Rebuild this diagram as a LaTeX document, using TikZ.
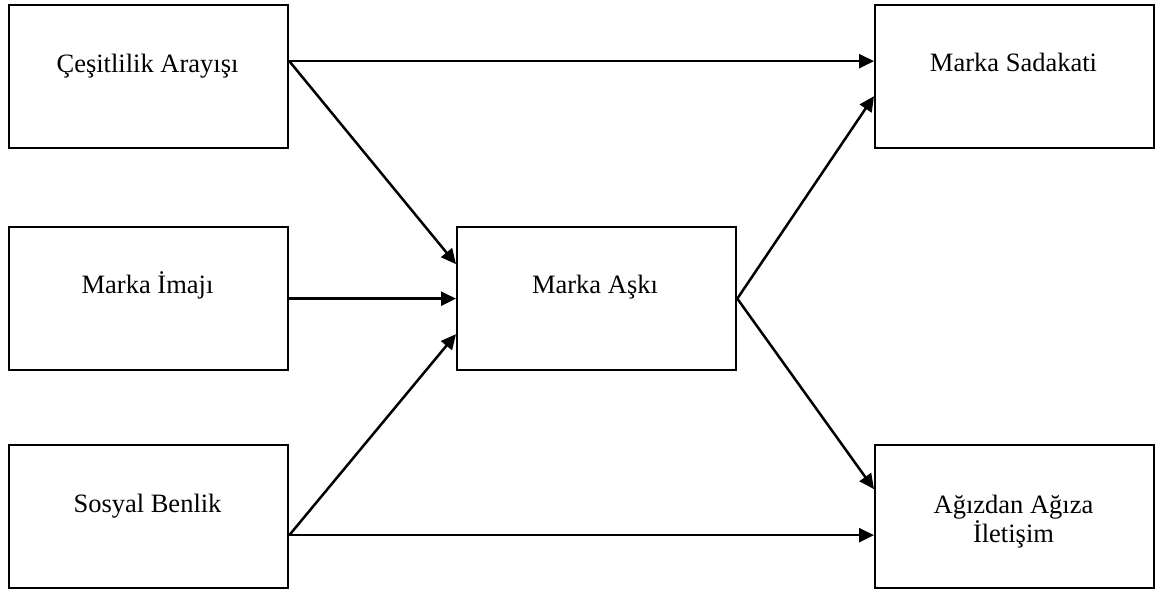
\documentclass[tikz,border=0pt]{standalone}
\usepackage{fontspec}
\setmainfont{Liberation Serif}
\usetikzlibrary{arrows.meta}
\begin{document}
\begin{tikzpicture}[x=1pt,y=-1pt,
  box/.style={draw,line width=2.3pt,minimum width=279pt,minimum height=143pt,inner sep=0pt,anchor=north west},
  lbl/.style={anchor=base,align=center,inner sep=0pt,font=\fontsize{26.5}{29}\selectfont},
  link/.style={line width=2.5pt,-{Triangle[length=15pt,width=14pt]}}]
\fill[white] (0,0) rectangle (1160,594);
\useasboundingbox (0,0) rectangle (1160,594);

% boxes
\node[box] (cesit) at (8,4) {};
\node[box] (imaj) at (8,226) {};
\node[box] (benlik) at (8,444) {};
\node[box] (ask) at (456,226) {};
\node[box] (sadakat) at (874,4) {};
\node[box] (agiz) at (874,444) {};

% labels, set near the top of each box
\node[lbl] (cesitT) at (147.5,73) {Çeşitlilik Arayışı};
\node[lbl] (imajT) at (147.5,293) {Marka İmajı};
\node[lbl] (benlikT) at (147.5,512) {Sosyal Benlik};
\node[lbl] (askT) at (595,293) {Marka Aşkı};
\node[lbl] (sadakatT) at (1013.5,71) {Marka Sadakati};
\node[lbl] (agizT) at (1013.5,542) {Ağızdan Ağıza\\İletişim};

% connectors
\draw[link] ([yshift=15.5pt]cesit.east) -- ([yshift=15.5pt]sadakat.west);
\draw[link] ([yshift=15.5pt]cesit.east) -- ([yshift=34.5pt]ask.west);
\draw[link] (imaj.east) -- (ask.west);
\draw[link] ([yshift=-18.5pt]benlik.east) -- ([yshift=-35.5pt]ask.west);
\draw[link] ([yshift=-18.5pt]benlik.east) -- ([yshift=-18.5pt]agiz.west);
\draw[link] (ask.east) -- ([yshift=-19.5pt]sadakat.west);
\draw[link] (ask.east) -- ([yshift=27.5pt]agiz.west);
\end{tikzpicture}
\end{document}
